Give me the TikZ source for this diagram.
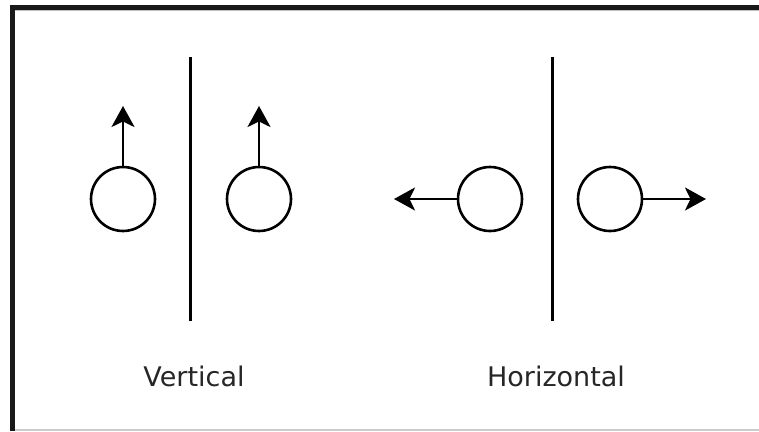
\documentclass[tikz,border=0pt]{standalone}
\usepackage{fontspec}
\setmainfont{DejaVu Sans}
\usetikzlibrary{arrows.meta}
\begin{document}
\begin{tikzpicture}[x=1bp,y=-1bp,
  ball/.style={circle,draw,line width=2.6bp,minimum size=64bp,inner sep=0pt},
  divider/.style={line width=3bp},
  move/.style={line width=2.5bp,-{Stealth[length=21bp,width=23bp,inset=5.5bp]}},
  caption/.style={font=\fontsize{27bp}{30bp}\selectfont,anchor=base,text=black!85}]
\useasboundingbox (0,0) rectangle (759,431);
% frame
\fill[black!90] (10,5) rectangle (759,9.5);
\fill[black!90] (10,5) rectangle (15,431);
\fill[black!25] (15,9.5) rectangle (759,10.5);
\fill[black!20] (15,428.5) rectangle (759,431);
% dividers
\coordinate (d1t) at (190,57);
\coordinate (d1b) at (190,321);
\coordinate (d2t) at (552,57);
\coordinate (d2b) at (552,321);
\draw[divider] (d1t) -- (d1b);
\draw[divider] (d2t) -- (d2b);
% vertical case
\node[ball] (va) at (123,199) {};
\node[ball] (vb) at (259,199) {};
\coordinate (vat) at (123,106);
\coordinate (vbt) at (259,106);
\draw[move] (va.north) -- (vat);
\draw[move] (vb.north) -- (vbt);
% horizontal case
\node[ball] (ha) at (490,199) {};
\node[ball] (hb) at (610,199) {};
\coordinate (hat) at (394,199);
\coordinate (hbt) at (706,199);
\draw[move] (ha.west) -- (hat);
\draw[move] (hb.east) -- (hbt);
% captions
\node[caption] (lv) at (194,386) {Vertical};
\node[caption] (lh) at (556,386) {Horizontal};
\end{tikzpicture}
\end{document}
